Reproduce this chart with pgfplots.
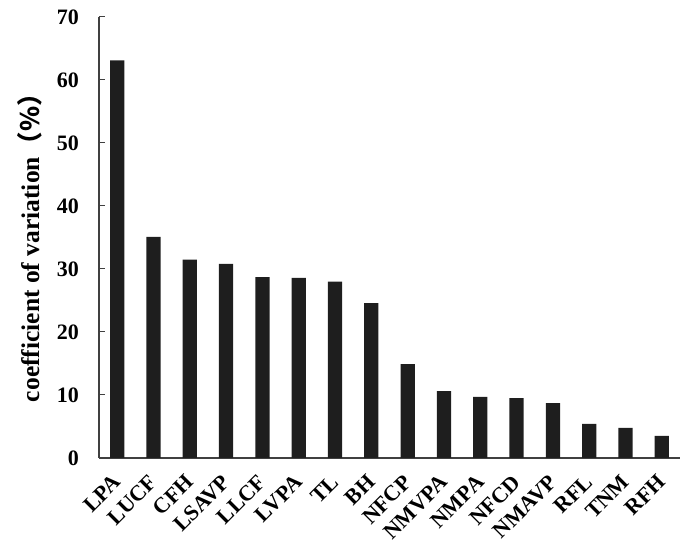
\documentclass[border=0pt]{standalone}
\usepackage{pgfplots}
\pgfplotsset{compat=1.18}
\usepackage{fontspec}
\setmainfont{Liberation Serif}
\newfontfamily\cjk{Noto Sans CJK SC}
\definecolor{barc}{HTML}{1E1E1E}
\definecolor{axc}{HTML}{404040}
\begin{document}
\begin{tikzpicture}
\begin{axis}[
  scale only axis, width=581pt, height=441pt,
  xmin=-0.5, xmax=15.5, ymin=0, ymax=70,
  axis x line*=bottom, axis y line*=left,
  axis line style={axc, line width=1.3pt, -},
  ytick={0,10,...,70},
  xtick={0,...,15},
  xticklabels={LPA,LUCF,CFH,LSAVP,LLCF,LVPA,TL,BH,NFCP,NMVPA,NMPA,NFCD,NMAVP,RFL,TNM,RFH},
  x tick style={draw=none},
  y tick style={axc, line width=1pt},
  tick align=inside, major tick length=6pt,
  /pgf/number format/assume math mode=true,
  y tick label style={font=\fontsize{22}{24}\selectfont\bfseries, inner sep=0pt, anchor=east, xshift=-20pt},
  x tick label style={font=\fontsize{22}{24}\selectfont\bfseries, rotate=45, anchor=north east, inner sep=0pt, xshift=-14.5pt, yshift=-7pt},
  ylabel={\bfseries coefficient of variation{\cjk （\%）}},
  ylabel style={font=\fontsize{25.5}{27}\selectfont, at={(axis description cs:0,0.5)}, anchor=south, inner sep=0pt, yshift=57pt, xshift=-4pt},
]
\addplot[ybar, bar width=14.3pt, fill=barc, draw=none] coordinates {
 (0,63.1) (1,35.1) (2,31.5) (3,30.8) (4,28.7) (5,28.6) (6,28.0) (7,24.6)
 (8,14.9) (9,10.6) (10,9.7) (11,9.5) (12,8.7) (13,5.4) (14,4.8) (15,3.5)
};
\end{axis}
\pgfresetboundingbox
\path[use as bounding box] ([xshift=-99pt,yshift=-86pt]current axis.south west) rectangle ([xshift=5pt,yshift=17pt]current axis.north east);
\end{tikzpicture}
\end{document}
